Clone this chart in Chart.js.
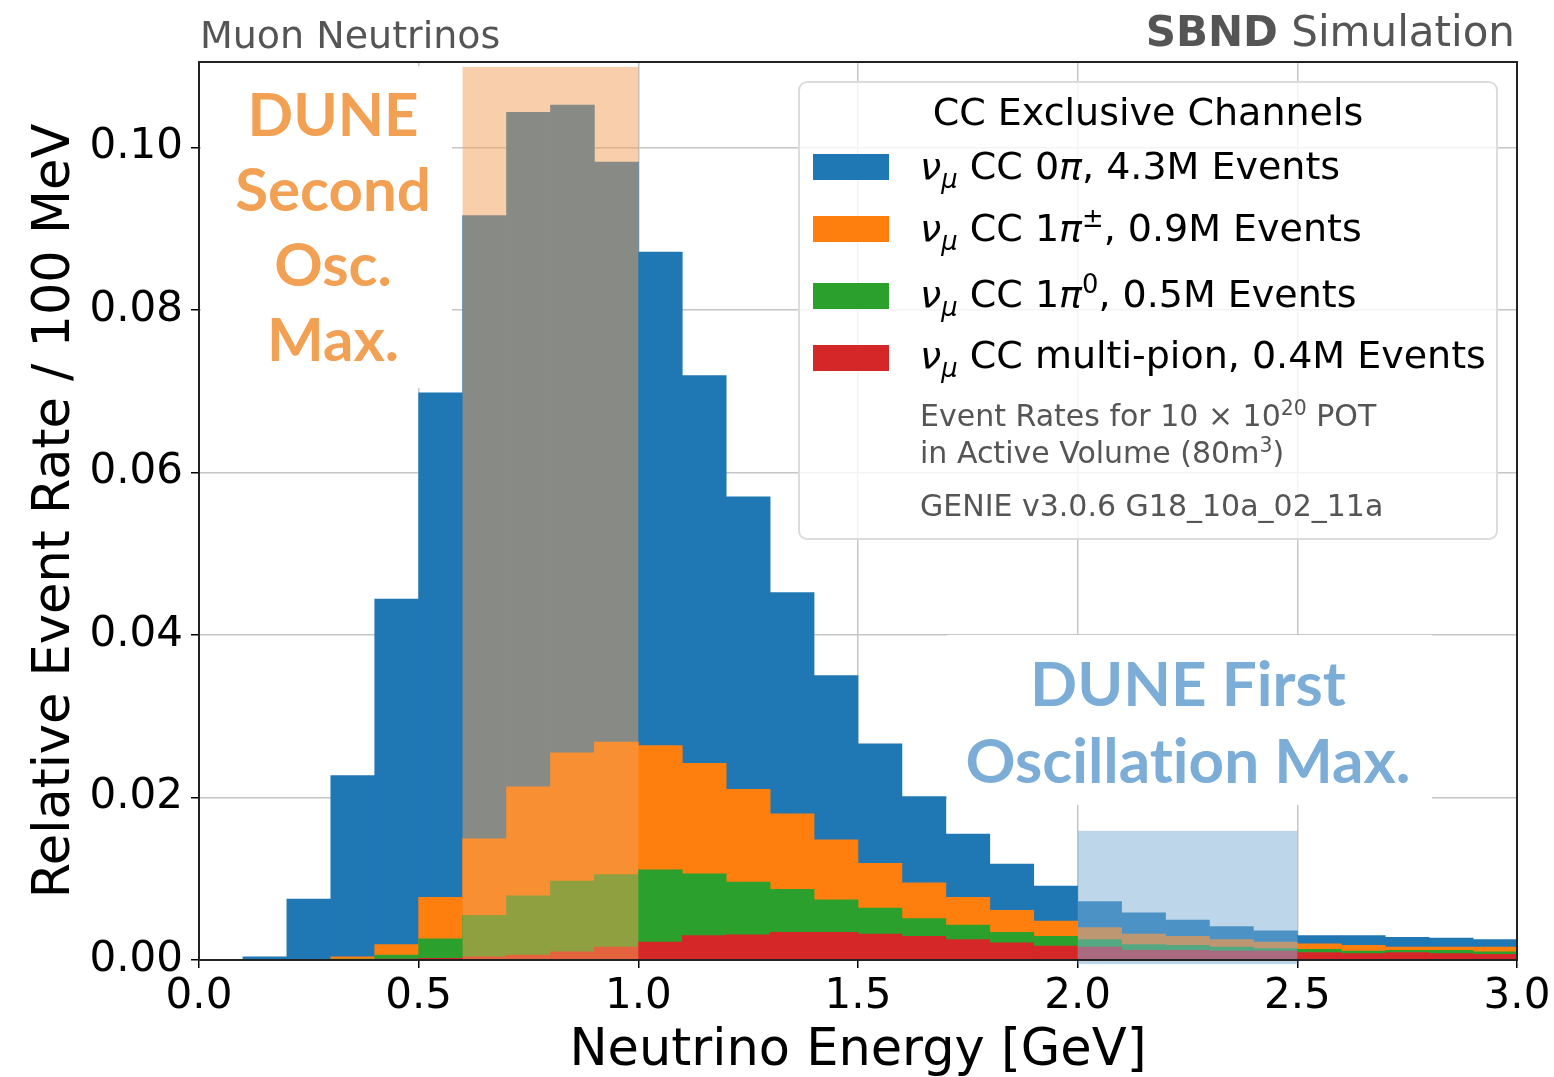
<!DOCTYPE html>
<html>
<head>
<meta charset="utf-8">
<script src="https://cdn.jsdelivr.net/npm/chart.js@4.4.0/dist/chart.umd.min.js"></script>
<style>
  html, body { margin: 0; padding: 0; background: #fff; }
  #wrap { position: relative; width: 1554px; height: 1077px; overflow: hidden; font-family: "DejaVu Sans", sans-serif; }
  #wrap canvas { position: absolute; left: 0; top: 0; }
  .txt { position: absolute; white-space: nowrap; line-height: 1; }
  .txt sup, .txt sub { line-height: 0; font-size: 68%; }
  .gray { color: #555; }
  .legend {
    position: absolute; left: 798px; top: 81px; width: 700px; height: 459px;
    box-sizing: border-box; border: 2px solid #dcdcdc; border-radius: 9px;
    background: rgba(255, 255, 255, 0.8);
  }
  .patch { position: absolute; left: 813px; width: 76px; height: 26px; }
  .entry { font-size: 38px; left: 920px; color: #000; }
  .note { font-size: 30px; left: 920px; }
  .bbox { position: absolute; background: #fff; }
  .osc { position: absolute; font-family: "Lato", sans-serif; font-weight: 700; text-align: center;
         white-space: nowrap; font-variant-ligatures: none; }
</style>
</head>
<body>
<div id="wrap">
  <canvas id="chart" width="1554" height="1077"></canvas>

  <div class="txt gray" style="left:200px; top:16px; font-size:38px;">Muon Neutrinos</div>
  <div class="txt gray" style="right:39px; top:11px; font-size:42px;"><b>SBND</b> Simulation</div>

  <div class="legend"></div>
  <div class="txt" style="left:1148px; top:93px; font-size:38px; transform:translateX(-50%);">CC Exclusive Channels</div>
  <div class="patch" style="top:154px; background:#1f77b4;"></div>
  <div class="patch" style="top:216px; background:#ff7f0e;"></div>
  <div class="patch" style="top:283px; background:#2ca02c;"></div>
  <div class="patch" style="top:345px; background:#d62728;"></div>
  <div class="txt entry" style="top:147px;"><i>ν</i><sub><i>μ</i></sub> CC 0<i>π</i>, 4.3M Events</div>
  <div class="txt entry" style="top:209px;"><i>ν</i><sub><i>μ</i></sub> CC 1<i>π</i><sup>±</sup>, 0.9M Events</div>
  <div class="txt entry" style="top:275px;"><i>ν</i><sub><i>μ</i></sub> CC 1<i>π</i><sup>0</sup>, 0.5M Events</div>
  <div class="txt entry" style="top:336px;"><i>ν</i><sub><i>μ</i></sub> CC multi-pion, 0.4M Events</div>
  <div class="txt note gray" style="top:401px;">Event Rates for 10 × 10<sup>20</sup> POT</div>
  <div class="txt note gray" style="top:438px;">in Active Volume (80m<sup>3</sup>)</div>
  <div class="txt note gray" style="top:491px;">GENIE v3.0.6 G18_10a_02_11a</div>

  <div class="bbox" style="left:201px; top:66px; width:251px; height:322px;"></div>
  <div class="osc" style="left:208px; top:76px; width:250px; font-size:60px; line-height:75px; color:#f2a154;">DUNE<br>Second<br>Osc.<br>Max.</div>

  <div class="bbox" style="left:947px; top:635px; width:485px; height:170px;"></div>
  <div class="osc" style="left:938px; top:644px; width:500px; font-size:62px; line-height:77px; color:#7badd6;">DUNE First<br>Oscillation Max.</div>
</div>

<script>
// bin centres, 100 MeV wide bins from 0 to 3 GeV
const energyBins = [0.05, 0.15, 0.25, 0.35, 0.45, 0.55, 0.65, 0.75, 0.85, 0.95,
                    1.05, 1.15, 1.25, 1.35, 1.45, 1.55, 1.65, 1.75, 1.85, 1.95,
                    2.05, 2.15, 2.25, 2.35, 2.45, 2.55, 2.65, 2.75, 2.85, 2.95];

// relative event rate per bin, as drawn (each channel drawn from zero)
const ccZeroPi = [0, 0.0004, 0.0075, 0.0227, 0.0444, 0.0698, 0.0916, 0.1043, 0.1052, 0.0982,
                  0.0871, 0.0719, 0.0570, 0.0452, 0.0350, 0.0266, 0.0201, 0.0155, 0.0118, 0.0091,
                  0.0072, 0.0058, 0.0049, 0.0041, 0.0036, 0.0030, 0.0030, 0.0028, 0.0027, 0.0025];
const ccOnePiCharged = [0, 0, 0, 0.0004, 0.0019, 0.0077, 0.0149, 0.0213, 0.0255, 0.0268,
                        0.0264, 0.0242, 0.0210, 0.0180, 0.0148, 0.0119, 0.0095, 0.0077, 0.0061, 0.0048,
                        0.0040, 0.0032, 0.0029, 0.0025, 0.0022, 0.0020, 0.0018, 0.0016, 0.0016, 0.0016];
const ccOnePiZero = [0, 0, 0, 0.0001, 0.0006, 0.0026, 0.0055, 0.0079, 0.0097, 0.0105,
                     0.0111, 0.0106, 0.0096, 0.0087, 0.0074, 0.0064, 0.0051, 0.0043, 0.0034, 0.0029,
                     0.0025, 0.0019, 0.0018, 0.0016, 0.0014, 0.0013, 0.0011, 0.0012, 0.0012, 0.0010];
const ccMultiPi = [0, 0, 0, 0, 0.0001, 0.0002, 0.0004, 0.0006, 0.0010, 0.0016,
                   0.0022, 0.0030, 0.0031, 0.0034, 0.0034, 0.0032, 0.0029, 0.0025, 0.0021, 0.0017,
                   0.0016, 0.0012, 0.0012, 0.0011, 0.0011, 0.0009, 0.0008, 0.0009, 0.0008, 0.0007];

const xTicks = [0, 0.5, 1.0, 1.5, 2.0, 2.5, 3.0];
const yTicks = [0, 0.02, 0.04, 0.06, 0.08, 0.10];

// shaded oscillation-maximum regions: [xFrom, xTo, yFrom, yTo]
const secondOscMax = [0.6, 1.0, 0, 0.1099];
const firstOscMax = [2.0, 2.5, -0.0005, 0.0159];

const toPoints = (vals) => energyBins.map((x, i) => ({ x: x, y: vals[i] }));

const bandsPlugin = {
    id: 'bands',
    afterDatasetsDraw(chart) {
        const { ctx, scales: { x, y } } = chart;
        const bands = [
            [secondOscMax, 'rgba(242,160,85,0.5)'],
            [firstOscMax, 'rgba(123,173,214,0.5)']
        ];
        ctx.save();
        bands.forEach(([b, color]) => {
            const x0 = x.getPixelForValue(b[0]), x1 = x.getPixelForValue(b[1]);
            const y0 = y.getPixelForValue(b[2]), y1 = y.getPixelForValue(b[3]);
            ctx.fillStyle = color;
            ctx.fillRect(x0, y1, x1 - x0, y0 - y1);
        });
        ctx.restore();
    }
};

const framePlugin = {
    id: 'frame',
    afterDraw(chart) {
        const { ctx, chartArea: a } = chart;
        ctx.save();
        ctx.strokeStyle = '#222';
        ctx.lineWidth = 2;
        ctx.strokeRect(a.left, a.top, a.right - a.left, a.bottom - a.top);
        ctx.restore();
    }
};

const gridStyle = { color: '#c6c6c6', lineWidth: 1.5, tickColor: '#000', tickLength: 8, tickWidth: 1.5, offset: false };
const tickFont = { family: 'DejaVu Sans', size: 42 };
const titleFont = { family: 'DejaVu Sans', size: 51 };

new Chart(document.getElementById('chart'), {
    type: 'bar',
    data: {
        datasets: [
            { label: 'CC 0pi', data: toPoints(ccZeroPi), backgroundColor: '#1f77b4', order: 4 },
            { label: 'CC 1pi+-', data: toPoints(ccOnePiCharged), backgroundColor: '#ff7f0e', order: 3 },
            { label: 'CC 1pi0', data: toPoints(ccOnePiZero), backgroundColor: '#2ca02c', order: 2 },
            { label: 'CC multi-pion', data: toPoints(ccMultiPi), backgroundColor: '#d62728', order: 1 }
        ]
    },
    options: {
        responsive: false,
        animation: false,
        layout: { padding: { left: 0, right: 37, top: 62, bottom: 0 } },
        plugins: { legend: { display: false }, tooltip: { enabled: false } },
        datasets: { bar: { grouped: false, categoryPercentage: 1, barPercentage: 1, borderWidth: 0 } },
        scales: {
            x: {
                type: 'linear', min: 0, max: 3, offset: false,
                grid: gridStyle,
                border: { display: false },
                ticks: { font: tickFont, color: '#000', padding: 4, maxRotation: 0, includeBounds: false,
                         callback: v => v.toFixed(1) },
                title: { display: true, text: 'Neutrino Energy [GeV]', font: { ...titleFont, lineHeight: 1.0 }, color: '#000', padding: 0 },
                afterBuildTicks: s => { s.ticks = xTicks.map(v => ({ value: v })); },
                afterFit: s => { s.height = 117; s.paddingLeft = 0; s.paddingRight = 0; }
            },
            y: {
                min: 0, max: 0.1105,
                grid: gridStyle,
                border: { display: false },
                ticks: { font: tickFont, color: '#000', padding: 8, includeBounds: false,
                         callback: v => v.toFixed(2) },
                title: { display: true, text: 'Relative Event Rate / 100 MeV', font: titleFont, color: '#000', padding: { top: 25 } },
                afterBuildTicks: s => { s.ticks = yTicks.map(v => ({ value: v })); },
                afterFit: s => { s.width = 199; s.paddingTop = 0; s.paddingBottom = 0; }
            }
        }
    },
    plugins: [bandsPlugin, framePlugin]
});
</script>
</body>
</html>
